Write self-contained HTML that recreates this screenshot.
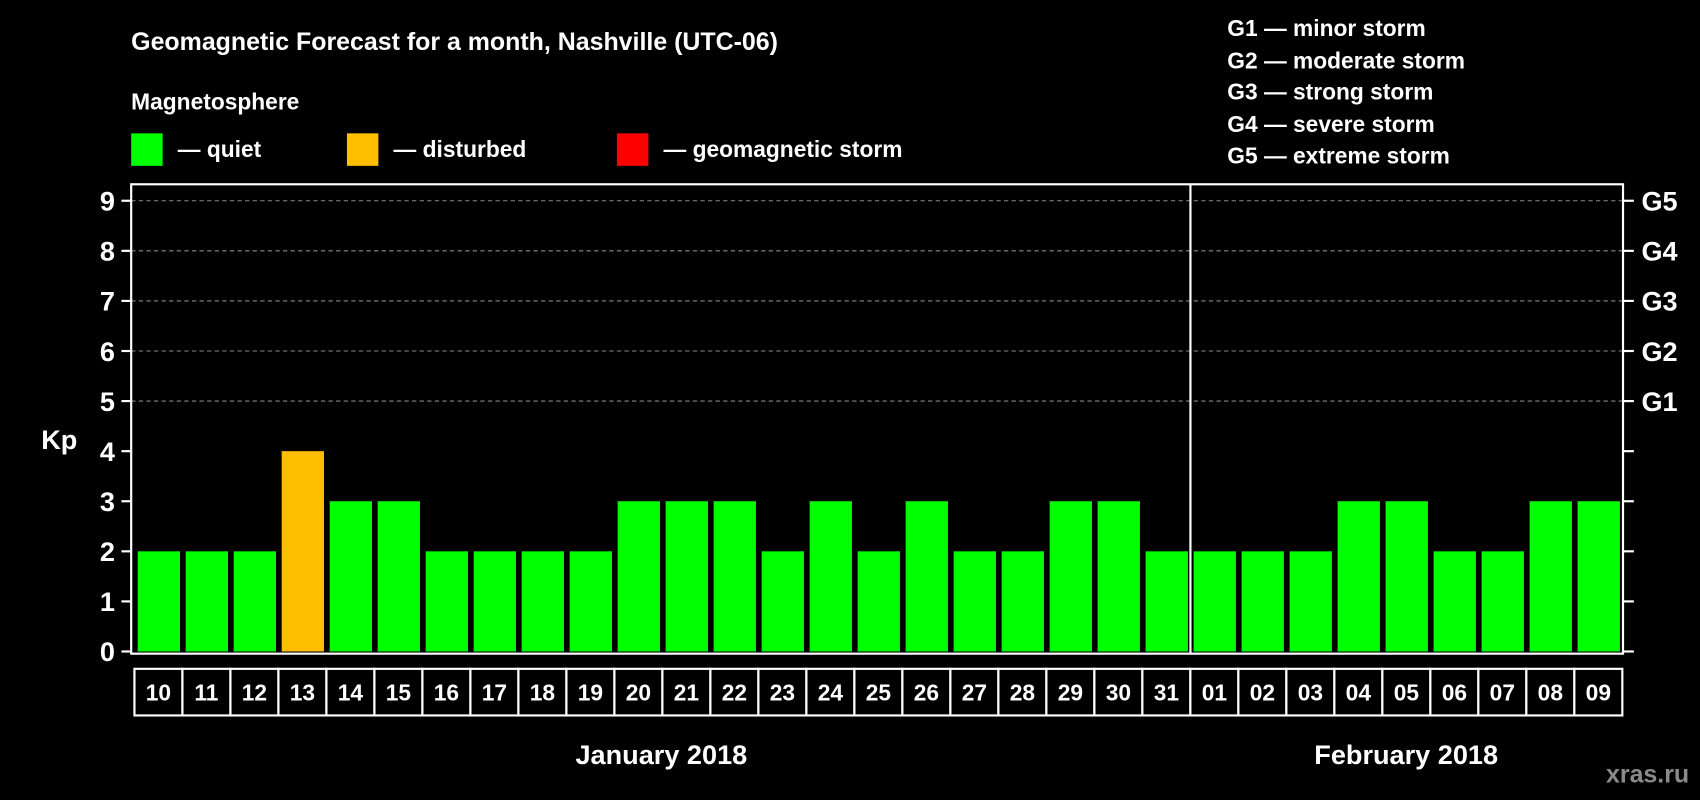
<!DOCTYPE html>
<html><head><meta charset="utf-8"><style>
html,body{margin:0;padding:0;background:#000;width:1700px;height:800px;overflow:hidden}
svg{display:block}
text{font-family:"Liberation Sans",Arial,sans-serif;font-weight:bold;fill:#fff}
</style></head><body>
<svg id="chart" width="1700" height="800" viewBox="0 0 1568 738" preserveAspectRatio="none" xmlns="http://www.w3.org/2000/svg">
<rect x="0" y="0" width="1568" height="738" fill="#000"/>
<text x="121" y="46" font-size="23">Geomagnetic Forecast for a month, Nashville (UTC-06)</text>
<text x="121" y="101" font-size="21">Magnetosphere</text>
<g><rect x="121" y="123" width="29" height="30" fill="#00ff00"/><text x="164" y="145" font-size="21">— quiet</text></g>
<g><rect x="320" y="123" width="29" height="30" fill="#ffbf00"/><text x="363" y="145" font-size="21">— disturbed</text></g>
<g><rect x="569" y="123" width="29" height="30" fill="#ff0000"/><text x="612" y="145" font-size="21">— geomagnetic storm</text></g>
<g font-size="21">
<text x="1132" y="33">G1 — minor storm</text>
<text x="1132" y="63">G2 — moderate storm</text>
<text x="1132" y="92">G3 — strong storm</text>
<text x="1132" y="122">G4 — severe storm</text>
<text x="1132" y="151">G5 — extreme storm</text>
</g>
<g id="grid"></g>
<g id="bars"></g>
<rect x="121" y="170" width="1376" height="433" fill="none" stroke="#fff" stroke-width="2"/>
<line x1="1098" y1="170" x2="1098" y2="603" stroke="#fff" stroke-width="2"/>
<g id="axes"></g>
<g id="dates"></g>
<text x="38" y="414" font-size="25">Kp</text>
<text x="610" y="705" font-size="25" text-anchor="middle">January 2018</text>
<text x="1297" y="705" font-size="25" text-anchor="middle">February 2018</text>
<text x="1558" y="722" font-size="23" text-anchor="end" style="fill:#8a8a8a">xras.ru</text>
</svg>
<script>
const days = ["10","11","12","13","14","15","16","17","18","19","20","21","22","23","24","25","26","27","28","29","30","31","01","02","03","04","05","06","07","08","09"];
const kpValues = [2,2,2,4,3,3,2,2,2,2,3,3,3,2,3,2,3,2,2,3,3,2,2,2,2,3,3,2,2,3,3];
const yTicks = [0,1,2,3,4,5,6,7,8,9];
const gLabels = ["G1","G2","G3","G4","G5"];
const gLevels = [5,6,7,8,9];

const NS = "http://www.w3.org/2000/svg";
const y0 = 601, yUnit = 46.2;
const xStart = 127, pitch = 44.27, barW = 39;
const yScale = v => y0 - v * yUnit;
const xScale = i => xStart + i * pitch;
function mk(tag, attrs, parent){const e=document.createElementNS(NS,tag);for(const k in attrs)e.setAttribute(k,attrs[k]);parent.appendChild(e);return e;}
const grid=document.getElementById('grid'), bars=document.getElementById('bars'), axes=document.getElementById('axes'), dates=document.getElementById('dates');

gLevels.forEach(v=>{
  const l=mk('line',{x1:121,x2:1497,y1:yScale(v),y2:yScale(v),stroke:'#888','stroke-dasharray':'4,3','stroke-width':1},grid);
  
  
});
yTicks.forEach(v=>{
  const t=mk('line',{x1:112,x2:121,y1:yScale(v),y2:yScale(v),stroke:'#fff','stroke-width':2},axes);
  
  
  const t2=mk('line',{x1:1497,x2:1507,y1:yScale(v),y2:yScale(v),stroke:'#fff','stroke-width':2},axes);
  
  
  const lb=mk('text',{x:106,y:yScale(v)+9,'font-size':25,'text-anchor':'end'},axes);
  lb.textContent=v;
  
  
});
gLabels.forEach((g,i)=>{
  const lb=mk('text',{x:1514,y:yScale(gLevels[i])+9,'font-size':25},axes);
  lb.textContent=g;
  
  
});
kpValues.forEach((v,i)=>{
  const color = v>=5 ? '#ff0000' : (v>=4 ? '#ffbf00' : '#00ff00');
  const b=mk('rect',{x:xScale(i),y:yScale(v),width:barW,height:y0-yScale(v),fill:color},bars);
  
  
});
days.forEach((d,i)=>{
  const bx=mk('rect',{x:xScale(i)-3,y:617,width:pitch,height:43,fill:'#000',stroke:'#fff','stroke-width':2},dates);
  
  
  const t=mk('text',{x:xScale(i)-3+pitch/2,y:646,'font-size':21,'text-anchor':'middle'},dates);
  t.textContent=d;
  
  
});
</script>
</body></html>
